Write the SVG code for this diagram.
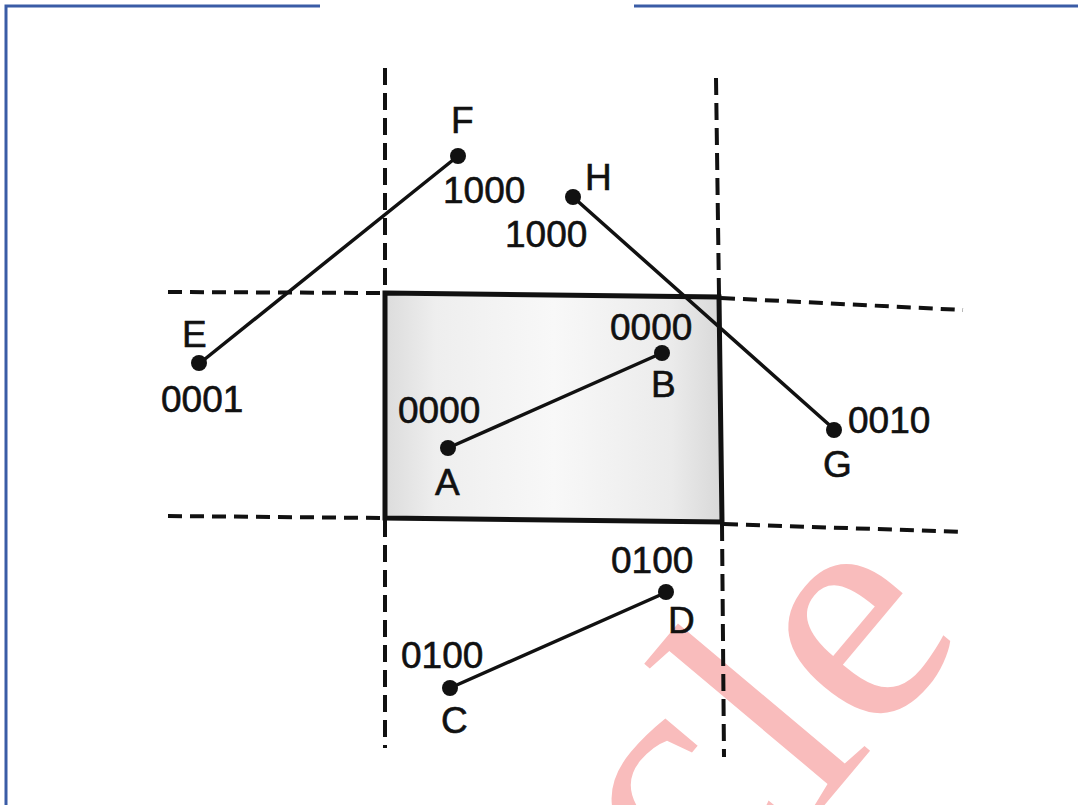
<svg xmlns="http://www.w3.org/2000/svg" width="1078" height="805" viewBox="0 0 1078 805">
  <defs>
    <linearGradient id="shade" x1="0" y1="0" x2="1" y2="0">
      <stop offset="0" stop-color="#dcdcdc"/>
      <stop offset="0.15" stop-color="#eeeeee"/>
      <stop offset="0.5" stop-color="#f8f8f8"/>
      <stop offset="0.85" stop-color="#ebebeb"/>
      <stop offset="1" stop-color="#d8d8d8"/>
    </linearGradient>
  </defs>
  <style>
    .frame { stroke: #3a5ca6; stroke-width: 3; fill: none; }
    .dashh { stroke: #111; stroke-width: 4; stroke-dasharray: 14 8; fill: none; }
    .dashv { stroke: #111; stroke-width: 4; stroke-dasharray: 17 8; fill: none; }
    .seg { stroke: #111; stroke-width: 3.5; fill: none; stroke-linecap: round; }
    .dot { fill: #111; }
    .lbl { font-family: "Liberation Sans", Arial, sans-serif; font-size: 37px; fill: #111; stroke: #111; stroke-width: 0.6; }
    .wm { font-family: "Liberation Serif", "Times New Roman", serif; font-size: 330px; fill: #f9bcbc; }
  </style>
  <rect width="1078" height="805" fill="#ffffff"/>

  <!-- page frame -->
  <path class="frame" d="M6 805 V6 H320 M634 6 H1078"/>

  <!-- watermark -->
  <text class="wm" transform="translate(718 932) rotate(-50)"><tspan dx="-3" dy="-27">c</tspan><tspan dx="8" dy="27">le</tspan></text>

  <!-- clipping window -->
  <g id="window">
    <polygon points="385,293 719,297 722,522 385,518" fill="url(#shade)" stroke="#111" stroke-width="5" stroke-linejoin="miter"/>
  </g>

  <!-- boundary extension lines -->
  <g id="boundaries">
    <line class="dashh" x1="168" y1="292" x2="383" y2="293"/>
    <line class="dashh" x1="721" y1="298" x2="963" y2="310"/>
    <line class="dashh" x1="168" y1="516" x2="383" y2="518"/>
    <line class="dashh" x1="724" y1="524" x2="965" y2="532"/>
    <line class="dashv" x1="385" y1="68" x2="385" y2="291"/>
    <line class="dashv" x1="385" y1="520" x2="385" y2="748"/>
    <line class="dashv" x1="716" y1="78" x2="719" y2="295"/>
    <line class="dashv" x1="722" y1="524" x2="724" y2="757"/>
  </g>

  <!-- connectors (line segments) -->
  <g id="connectors">
    <line class="seg" x1="200" y1="363" x2="458" y2="156"/>
    <line class="seg" x1="573" y1="197" x2="835" y2="430"/>
    <line class="seg" x1="448" y1="448" x2="662" y2="353"/>
    <line class="seg" x1="450" y1="688" x2="667" y2="592"/>
  </g>

  <!-- end points -->
  <g id="F"><circle class="dot" cx="458" cy="156" r="8"/><text class="lbl" x="451" y="133">F</text><text class="lbl" x="443" y="203">1000</text></g>
  <g id="H"><circle class="dot" cx="573" cy="197" r="8"/><text class="lbl" x="585" y="190">H</text><text class="lbl" x="505" y="247">1000</text></g>
  <g id="E"><circle class="dot" cx="199" cy="363" r="8"/><text class="lbl" x="182" y="347">E</text><text class="lbl" x="161" y="412">0001</text></g>
  <g id="B"><circle class="dot" cx="662" cy="353" r="8"/><text class="lbl" x="610" y="340">0000</text><text class="lbl" x="651" y="397">B</text></g>
  <g id="A"><circle class="dot" cx="448" cy="448" r="8"/><text class="lbl" x="398" y="423">0000</text><text class="lbl" x="435" y="495">A</text></g>
  <g id="G"><circle class="dot" cx="834" cy="430" r="8"/><text class="lbl" x="848" y="433">0010</text><text class="lbl" x="823" y="477">G</text></g>
  <g id="D"><circle class="dot" cx="666" cy="592" r="8"/><text class="lbl" x="611" y="573">0100</text><text class="lbl" x="668" y="633">D</text></g>
  <g id="C"><circle class="dot" cx="450" cy="688" r="8"/><text class="lbl" x="401" y="668">0100</text><text class="lbl" x="441" y="733">C</text></g>
</svg>
